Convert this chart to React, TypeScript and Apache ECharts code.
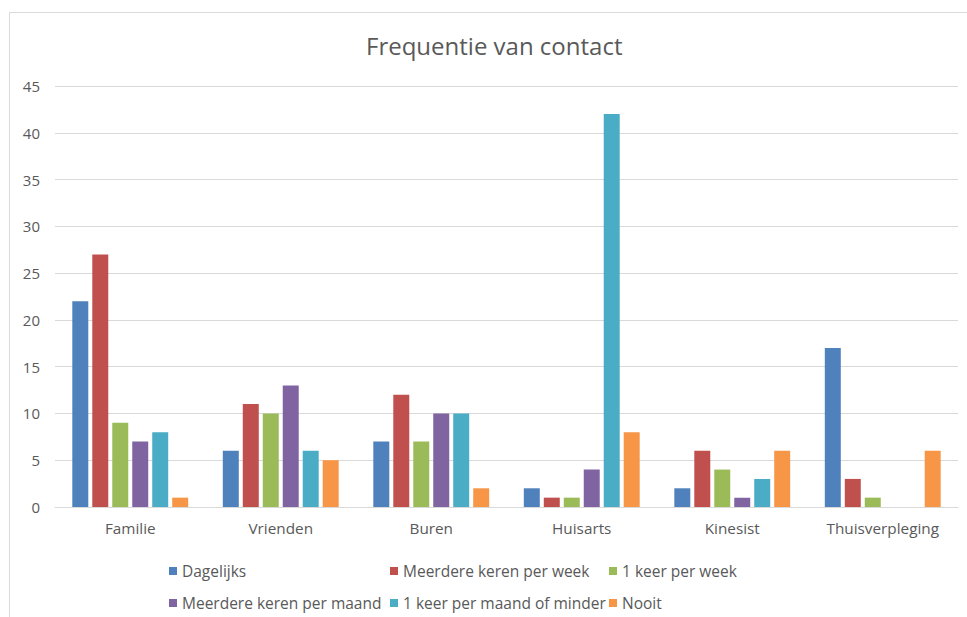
import React, { useEffect, useRef } from "react";
import * as echarts from "echarts";

const categories = ["Familie", "Vrienden", "Buren", "Huisarts", "Kinesist", "Thuisverpleging"];
const seriesNames = [
  "Dagelijks",
  "Meerdere keren per week",
  "1 keer per week",
  "Meerdere keren per maand",
  "1 keer per maand of minder",
  "Nooit",
];
const dagelijks = [22, 6, 7, 2, 2, 17];
const meerdereKerenPerWeek = [27, 11, 12, 1, 6, 3];
const eenKeerPerWeek = [9, 10, 7, 1, 4, 1];
const meerdereKerenPerMaand = [7, 13, 10, 4, 1, 0];
const eenKeerPerMaandOfMinder = [8, 6, 10, 42, 3, 0];
const nooit = [1, 5, 2, 8, 6, 6];
const seriesValues = [dagelijks, meerdereKerenPerWeek, eenKeerPerWeek, meerdereKerenPerMaand, eenKeerPerMaandOfMinder, nooit];
const colors = ["#4F81BD", "#C0504D", "#9BBB59", "#8064A2", "#4BACC6", "#F79646"];

const FONT = "Open Sans";
const TXT = "#595959";

export default function App() {
  const ref = useRef<HTMLDivElement>(null);
  useEffect(() => {
    if (!ref.current) return;
    const chart = echarts.init(ref.current, undefined, { renderer: "svg" });
    const legendPos = [
      [169, 563],
      [390, 563],
      [609, 563],
      [169, 595],
      [390, 595],
      [609, 595],
    ];
    chart.setOption({
      animation: false,
      textStyle: { fontFamily: FONT },
      title: {
        text: "Frequentie van contact",
        left: 366,
        top: 33,
        padding: 0,
        textStyle: { fontFamily: FONT, fontSize: 24, fontWeight: "normal", color: TXT },
      },
      graphic: [
        {
          type: "rect",
          shape: { x: 9.5, y: 12.5, width: 1000, height: 700 },
          style: { fill: "none", stroke: "#D9D9D9", lineWidth: 1 },
          silent: true,
          z: -10,
        },
      ],
      legend: seriesNames.map((n, i) => ({
        data: [n],
        left: legendPos[i][0],
        top: legendPos[i][1],
        icon: "rect",
        itemWidth: 8,
        itemHeight: 8,
        itemGap: 0,
        padding: 0,
        textStyle: { fontFamily: FONT, fontSize: 15.5, color: TXT, padding: [0, 0, 0, 0] },
      })),
      grid: { left: 55, right: 9, top: 86, bottom: 110, containLabel: false },
      xAxis: {
        type: "category",
        data: categories,
        axisLine: { show: true, lineStyle: { color: "#D9D9D9", width: 1 } },
        axisTick: { show: false },
        axisLabel: { fontFamily: FONT, fontSize: 15.3, color: TXT, margin: 13 },
      },
      yAxis: {
        type: "value",
        min: 0,
        max: 45,
        interval: 5,
        axisLine: { show: false },
        axisTick: { show: false },
        splitLine: { lineStyle: { color: "#D9D9D9", width: 1 } },
        axisLabel: { fontFamily: FONT, fontSize: 15, color: TXT, margin: 15 },
      },
      series: seriesNames.map((n, i) => ({
        name: n,
        type: "bar",
        data: seriesValues[i],
        barGap: "25%",
        barCategoryGap: "23%",
        itemStyle: { color: colors[i], borderWidth: 0 },
      })),
    });
    return () => chart.dispose();
  }, []);
  return <div ref={ref} style={{ position: "absolute", left: 0, top: 0, width: 967, height: 617 }} />;
}
